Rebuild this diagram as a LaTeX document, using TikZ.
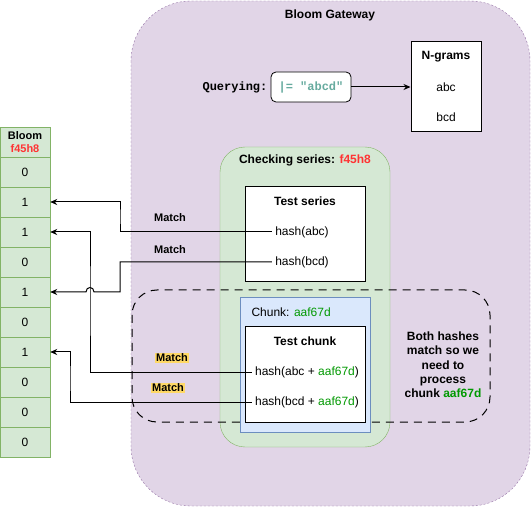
\documentclass[tikz,border=0pt]{standalone}
\usepackage{fontspec}
\setmainfont{Liberation Sans}
\setmonofont{Liberation Mono}
\usetikzlibrary{arrows.meta}

\definecolor{gwfill}{HTML}{E1D5E7}
\definecolor{gwline}{HTML}{9673A6}
\definecolor{serfill}{HTML}{D5E8D4}
\definecolor{serline}{HTML}{82B366}
\definecolor{chkfill}{HTML}{DAE8FC}
\definecolor{chkline}{HTML}{6C8EBF}
\definecolor{fpred}{HTML}{FF3333}
\definecolor{chkgreen}{HTML}{009900}
\definecolor{qteal}{HTML}{67AB9F}
\definecolor{hilite}{HTML}{FFD966}

\tikzset{
  every node/.style={font=\fontsize{12}{14}\selectfont},
  cell/.style={draw=serline, fill=serfill, minimum width=50pt, minimum height=30pt, inner sep=0pt},
  whitebox/.style={draw, fill=white, line width=1pt},
  link/.style={-{Stealth[length=7pt,width=6pt]}, line width=1pt},
  matchlbl/.style={font=\bfseries\fontsize{11}{13}\selectfont, inner sep=1pt},
}

\begin{document}
\begin{tikzpicture}[x=1pt, y=-1pt]
    \useasboundingbox (0,0) rectangle (531,508);

    % Gateway
    \draw[gwline, fill=gwfill, dash pattern=on 2pt off 2pt, rounded corners=60pt] (131,1) rectangle (530,506);
    \node[font=\bfseries\fontsize{12}{14}\selectfont] (gwtitle) at (330,15) {Bloom Gateway};

    % Query and n-grams
    \node[draw, fill=white, line width=0.8pt, rounded corners=5pt, minimum width=80pt, minimum height=30pt,
          text=qteal, font=\ttfamily\bfseries\fontsize{12}{14}\selectfont] (query) at (311,87) {|= "abcd"};
    \node[anchor=east, inner sep=3pt, font=\ttfamily\bfseries\fontsize{12}{14}\selectfont] (qlabel) at (query.west) {Querying:};
    \node[whitebox, minimum width=70pt, minimum height=90pt] (ngrams) at (446,87) {};
    \node[font=\bfseries\fontsize{12}{14}\selectfont] (ngtitle) at (446,57) {N-grams};
    \node (ngabc) at (446,87) {abc};
    \node (ngbcd) at (446,117) {bcd};
    \draw[link] (query.east) -- (ngrams.west);

    % Checking series
    \draw[serline, fill=serfill, rounded corners=25pt] (220,147) rectangle (390,447);
    \node[font=\bfseries\fontsize{12}{14}\selectfont] (sertitle) at (305,160) {Checking series: \textcolor{fpred}{f45h8}};
    \draw[whitebox] (245,187) rectangle (365,282);
    \node[font=\bfseries\fontsize{12}{14}\selectfont] (tstitle) at (305,201) {Test series};
    \node (habc) at (302,232) {hash(abc)};
    \node (hbcd) at (302,262) {hash(bcd)};

    % Match region
    \draw[line width=1pt, dash pattern=on 8pt off 6pt, rounded corners=25pt] (132,290) rectangle (490,422);

    % Chunk
    \draw[chkline, fill=chkfill] (240,297) rectangle (370,432);
    \node[anchor=west] (chtitle) at (248,312) {Chunk: \textcolor{chkgreen}{aaf67d}};
    \draw[whitebox] (245,327) rectangle (365,422);
    \node[font=\bfseries\fontsize{12}{14}\selectfont] (tctitle) at (305,341) {Test chunk};
    \node (hcabc) at (307,372) {hash(abc + \textcolor{chkgreen}{aaf67d})};
    \node (hcbcd) at (307,402) {hash(bcd + \textcolor{chkgreen}{aaf67d})};

    \node[align=center, font=\bfseries\fontsize{12}{14.3}\selectfont] (verdict) at (443,365)
        {Both hashes\\match so we\\need to\\process\\chunk \textcolor{chkgreen}{aaf67d}};

    % Bloom filter
    \node[cell, align=center, font=\bfseries\fontsize{11}{13}\selectfont] (bloom) at (25,142) {Bloom\\\textcolor{fpred}{f45h8}};
    \foreach \b [count=\i] in {0,1,1,0,1,0,1,0,0,0}
        \node[cell] (c\i) at (25,142+30*\i) {\b};

    % Lookups
    \draw[link] (habc.west) -| (120,217) |- (c2.east);
    \draw[link] (hbcd.west) -| (120,280) |- (94,292)
        .. controls (94,286) and (86,286) .. (86,292) -- (c5.east);
    \draw[link] (hcabc.west) -| (90,300) |- (c3.east);
    \draw[link] (hcbcd.west) -| (70,380) |- (c7.east);

    \node[matchlbl] (m1) at (170,218) {Match};
    \node[matchlbl] (m2) at (170,250) {Match};
    \node[matchlbl, fill=hilite] (m3) at (172,358) {Match};
    \node[matchlbl, fill=hilite] (m4) at (168,388) {Match};
\end{tikzpicture}
\end{document}
